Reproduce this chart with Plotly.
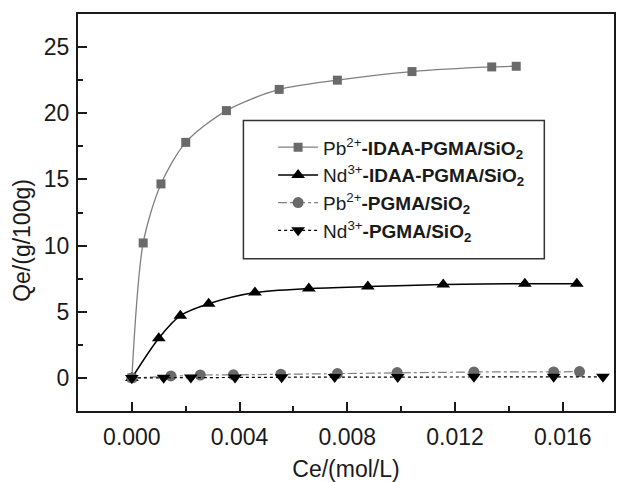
import plotly.graph_objects as go

# Data
pb_idaa_x = [0.0, 0.00042, 0.00108, 0.0020, 0.00351, 0.00547, 0.00763, 0.0104, 0.01336, 0.01427]
pb_idaa_y = [0.0, 10.2, 14.66, 17.8, 20.2, 21.8, 22.5, 23.15, 23.5, 23.55]

nd_idaa_x = [0.0, 0.0010, 0.0018, 0.00285, 0.00457, 0.00657, 0.00876, 0.01156, 0.01459, 0.01652]
nd_idaa_y = [0.0, 3.0, 4.7, 5.6, 6.45, 6.75, 6.9, 7.05, 7.12, 7.12]

pb_pgma_x = [0.0, 0.00145, 0.00254, 0.00377, 0.00553, 0.00763, 0.00985, 0.0127, 0.01566, 0.01662]
pb_pgma_y = [0.0, 0.15, 0.22, 0.23, 0.28, 0.33, 0.4, 0.45, 0.45, 0.48]

nd_pgma_x = [0.0, 0.00118, 0.00219, 0.00383, 0.00556, 0.00753, 0.00987, 0.0127, 0.01566, 0.01749]
nd_pgma_y = [0.0, 0.02, 0.03, 0.03, 0.05, 0.06, 0.07, 0.08, 0.08, 0.08]

names = [
    "Pb<sup>2+</sup><b>-IDAA-PGMA/SiO<sub>2</sub></b>",
    "Nd<sup>3+</sup><b>-IDAA-PGMA/SiO<sub>2</sub></b>",
    "Pb<sup>2+</sup><b>-PGMA/SiO<sub>2</sub></b>",
    "Nd<sup>3+</sup><b>-PGMA/SiO<sub>2</sub></b>",
]

x_title = "Ce/(mol/L)"
y_title = "Qe/(g/100g)"

fig = go.Figure()
fig.add_trace(go.Scatter(
    x=pb_idaa_x, y=pb_idaa_y, name=names[0], mode="lines+markers",
    line=dict(color="#808080", width=1.3, shape="spline", smoothing=0.8),
    marker=dict(symbol="square", size=9, color="#6a6a6a"),
))
fig.add_trace(go.Scatter(
    x=nd_idaa_x, y=nd_idaa_y, name=names[1], mode="lines+markers",
    line=dict(color="#000000", width=1.5, shape="spline", smoothing=0.8),
    marker=dict(symbol="triangle-up", size=12, color="#000000"),
))
fig.add_trace(go.Scatter(
    x=pb_pgma_x, y=pb_pgma_y, name=names[2], mode="lines+markers",
    line=dict(color="#808080", width=1.2, dash="dashdot"),
    marker=dict(symbol="circle", size=11, color="#6a6a6a"),
))
fig.add_trace(go.Scatter(
    x=nd_pgma_x, y=nd_pgma_y, name=names[3], mode="lines+markers",
    line=dict(color="#000000", width=1.2, dash="dot"),
    marker=dict(symbol="triangle-down", size=12, color="#000000"),
))

font_family = "Liberation Sans, Arial, sans-serif"
ink = "#1a1a1a"

fig.update_layout(
    width=617, height=482,
    margin=dict(l=78, r=1, t=14, b=69),
    paper_bgcolor="white", plot_bgcolor="white",
    font=dict(family=font_family, color=ink),
    showlegend=True,
    legend=dict(
        x=0.364, y=0.712, xanchor="left", yanchor="top",
        bgcolor="rgba(0,0,0,0)", borderwidth=0,
        font=dict(size=19, family=font_family, color=ink),
        tracegroupgap=0, itemwidth=40,
    ),
    shapes=[dict(
        type="rect", xref="paper", yref="paper",
        x0=0.3086, x1=0.870, y0=0.3835, y1=0.7318,
        line=dict(color="#333333", width=1.5), fillcolor="white", layer="below",
    )],
    annotations=[dict(
        text=y_title, textangle=-90, showarrow=False,
        xref="paper", yref="paper", x=0, y=0.4286,
        xanchor="center", yanchor="middle", xshift=-56,
        font=dict(size=23, family=font_family, color=ink),
    )],
)

fig.update_xaxes(
    range=[-0.002, 0.0179],
    tick0=0, dtick=0.004, tickformat=".3f",
    ticks="inside", ticklen=9, tickwidth=1.5, tickcolor=ink,
    minor=dict(dtick=0.002, ticks="inside", ticklen=5, tickwidth=1.5, tickcolor=ink),
    showline=True, linecolor=ink, linewidth=2, mirror=True,
    showgrid=False, zeroline=False,
    tickfont=dict(size=23, family=font_family),
    title=dict(text=x_title, font=dict(size=23, family=font_family), standoff=15),
    ticklabelstandoff=4,
)
fig.update_yaxes(
    range=[-2.5, 27.5],
    tick0=0, dtick=5,
    ticks="inside", ticklen=9, tickwidth=1.5, tickcolor=ink,
    minor=dict(dtick=2.5, ticks="inside", ticklen=5, tickwidth=1.5, tickcolor=ink),
    showline=True, linecolor=ink, linewidth=2, mirror=True,
    showgrid=False, zeroline=False,
    tickfont=dict(size=23, family=font_family),
    ticklabelstandoff=2,
)

fig.write_html("out.html")
